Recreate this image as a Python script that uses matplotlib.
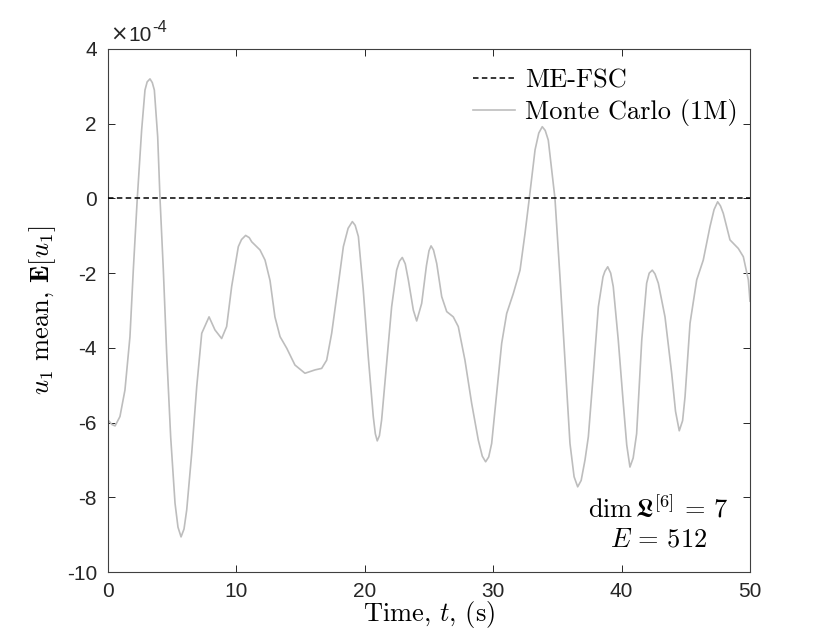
import matplotlib
matplotlib.use("Agg")
import matplotlib.pyplot as plt
from matplotlib.ticker import FuncFormatter, FixedLocator

plt.rcParams['mathtext.fontset'] = 'cm'
plt.rcParams['axes.unicode_minus'] = False

# Time samples (s) and Monte Carlo mean values (units of 1e-4)
time_s = [0.0, 0.3, 0.55, 0.93, 1.32, 1.71, 1.97, 2.28, 2.62, 2.88, 3.05, 3.27, 3.45, 3.61, 3.87,
          4.05, 4.31, 4.57, 4.88, 5.22, 5.45, 5.69, 5.92, 6.13, 6.52, 6.91, 7.30, 7.87, 8.33, 8.85,
          9.24, 9.63, 10.15, 10.4, 10.72, 11.0, 11.19, 11.84, 12.23, 12.62, 13.0, 13.4, 13.92, 14.56,
          15.34, 16.12, 16.64, 17.03, 17.42, 17.81, 18.33, 18.7, 19.03, 19.25, 19.5, 19.88, 20.27,
          20.66, 20.82, 20.97, 21.14, 21.31, 21.7, 22.09, 22.48, 22.7, 22.92, 23.15, 23.39, 23.78,
          24.04, 24.43, 24.8, 25.0, 25.16, 25.35, 25.6, 25.99, 26.38, 26.89, 27.28, 27.80, 28.32,
          28.84, 29.15, 29.41, 29.65, 29.88, 30.27, 30.66, 31.05, 31.57, 32.09, 32.48, 32.81, 33.26,
          33.55, 33.82, 34.05, 34.29, 34.81, 35.2, 35.59, 35.98, 36.3, 36.58, 36.85, 37.15, 37.41,
          37.8, 38.19, 38.55, 38.7, 38.92, 39.15, 39.35, 39.74, 40.13, 40.4, 40.65, 40.9, 41.17,
          41.57, 41.95, 42.15, 42.39, 42.6, 42.86, 43.38, 43.9, 44.2, 44.49, 44.75, 44.94, 45.33,
          45.85, 46.36, 46.88, 47.2, 47.48, 47.7, 47.92, 48.44, 49.09, 49.48, 49.87, 50.0]
mc_mean_e4 = [-5.93, -6.05, -6.09, -5.84, -5.13, -3.70, -1.92, 0.0, 1.83, 2.90, 3.12, 3.20, 3.10, 2.90, 1.65,
              0.0, -1.92, -4.15, -6.38, -8.16, -8.80, -9.06, -8.85, -8.34, -6.82, -5.04, -3.61, -3.17, -3.52, -3.75,
              -3.43, -2.36, -1.29, -1.10, -0.99, -1.05, -1.16, -1.38, -1.65, -2.20, -3.17, -3.70, -4.01, -4.46,
              -4.68, -4.59, -4.55, -4.33, -3.61, -2.63, -1.29, -0.80, -0.62, -0.72, -1.02, -2.45, -4.24,
              -5.84, -6.30, -6.49, -6.35, -5.93, -4.41, -2.90, -1.92, -1.68, -1.58, -1.75, -2.18, -2.99,
              -3.28, -2.81, -1.80, -1.40, -1.27, -1.38, -1.74, -2.63, -3.03, -3.17, -3.43, -4.33, -5.48,
              -6.47, -6.90, -7.05, -6.92, -6.56, -5.22, -3.88, -3.08, -2.54, -1.92, -0.93, 0.0, 1.30,
              1.75, 1.92, 1.82, 1.56, 0.0, -2.10, -4.33, -6.56, -7.45, -7.72, -7.55, -7.0, -6.38,
              -4.68, -2.90, -2.10, -1.95, -1.83, -2.00, -2.36, -3.79, -5.48, -6.60, -7.19, -6.95, -6.30,
              -3.79, -2.27, -2.00, -1.92, -2.02, -2.27, -3.17, -4.68, -5.70, -6.22, -5.95, -5.31, -3.34,
              -2.18, -1.65, -0.76, -0.30, -0.09, -0.20, -0.40, -1.11, -1.34, -1.56, -2.18, -2.75]
mc_mean = [v * 1e-4 for v in mc_mean_e4]

# ME-FSC mean (zero)
fsc_time = [0.0, 50.0]
fsc_mean = [0.0, 0.0]

x_ticks = [0, 10, 20, 30, 40, 50]
y_ticks_e4 = [-10, -8, -6, -4, -2, 0, 2, 4]

fig = plt.figure(figsize=(8.30, 6.42), dpi=100)
ax = fig.add_axes([108/830, 70/642, 642/830, 523/642])

ax.plot(fsc_time, fsc_mean, color='black', lw=1.1, dashes=(3.6, 2.2), label='ME-FSC', zorder=3)
ax.plot(time_s, mc_mean, color='#bdbdbd', lw=1.2, label='Monte Carlo (1M)', zorder=2)

ax.set_xlim(0, 50)
ax.set_ylim(-10e-4, 4e-4)
ax.xaxis.set_major_locator(FixedLocator(x_ticks))
ax.yaxis.set_major_locator(FixedLocator([v * 1e-4 for v in y_ticks_e4]))
ax.yaxis.set_major_formatter(FuncFormatter(lambda v, p: "%d" % round(v * 1e4)))
ax.xaxis.set_major_formatter(FuncFormatter(lambda v, p: "%d" % round(v)))

ax.tick_params(direction='in', length=5, width=0.7, colors='#262626', labelsize=15,
               top=True, right=True)
ax.tick_params(axis='y', pad=8)
ax.tick_params(axis='x', pad=7)
for lab in ax.get_xticklabels() + ax.get_yticklabels():
    lab.set_fontfamily('Liberation Sans')
for sp in ax.spines.values():
    sp.set_color('#404040')
    sp.set_linewidth(0.8)

ax.set_xlabel(r"Time, $t$, (s)", fontfamily='cmr10', fontsize=19, labelpad=-1)
ax.set_ylabel(r"$u_1$ mean, $\mathbf{E}[u_1]$", fontfamily='cmr10', fontsize=19, labelpad=6)

# offset text
t1 = ax.text(0.003, 1.008, "\u00d7", transform=ax.transAxes, ha='left', va='bottom',
             fontsize=15, fontfamily='DejaVu Sans', color='#262626')
t2 = ax.annotate("10", xy=(1.0, 0.0), xycoords=t1, ha='left', va='bottom',
                 xytext=(1, 0), textcoords='offset points',
                 fontsize=15, fontfamily='Liberation Sans', color='#262626')
ax.annotate("-4", xy=(1.0, 0.5), xycoords=t2, ha='left', va='bottom',
            fontsize=12, fontfamily='Liberation Sans', color='#262626')

leg = ax.legend(loc='upper right', bbox_to_anchor=(1.0 + 8/642, 1.0), frameon=False,
                prop={'family': 'cmr10', 'size': 19}, handlelength=1.6,
                handletextpad=0.4, labelspacing=0.25, borderaxespad=0.35)

ax.text(0.857, 0.092, r"$\dim\mathfrak{L}^{[6]}\,=\,7$" + "\n" + r"$E\,=\,512$",
        transform=ax.transAxes, ha='center', va='center', multialignment='center',
        fontsize=19, linespacing=1.15)

fig.savefig("out.png", dpi=100)
